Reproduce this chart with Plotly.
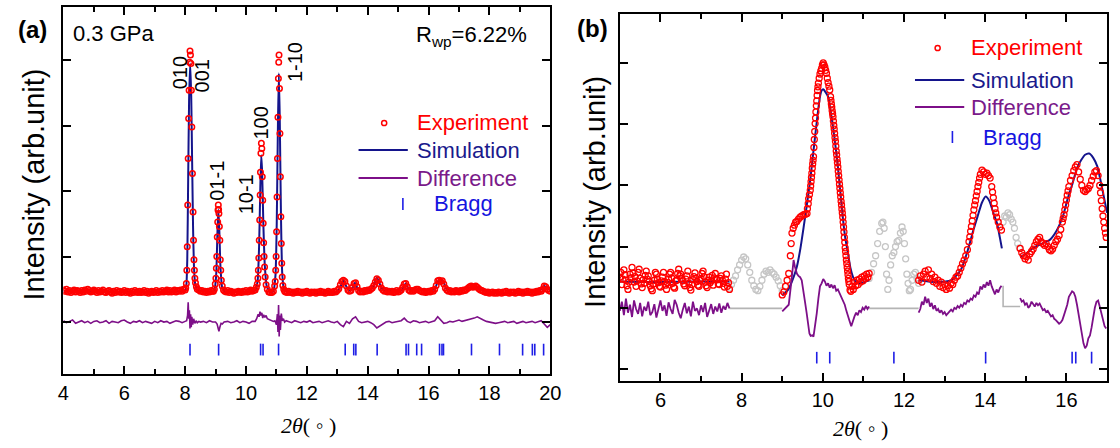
import plotly.graph_objects as go

W, H = 1120, 448

# ======================= Panel (a) data (0.3 GPa) =======================
a_step = 0.05
a_bg1_start = 4.00
a_bg1 = [0.49,0.47,0.50,0.46,0.48,0.45,0.47,0.49,0.46,0.48,
         0.47,0.45,0.48,0.46,0.49,0.47,0.50,0.48,0.46,0.47,
         0.49,0.47,0.45,0.48,0.46,0.47,0.49,0.46,0.45,0.47,
         0.48,0.46,0.44,0.47,0.45,0.48,0.46,0.47,0.45,0.46,
         0.48,0.45,0.47,0.46,0.44,0.47,0.45,0.48,0.46,0.45,
         0.47,0.45,0.46,0.48,0.45,0.47,0.44,0.46,0.47,0.45,
         0.46,0.48,0.45,0.47,0.46,0.48,0.46,0.47,0.49,0.46,
         0.48,0.46,0.47,0.49,0.46,0.48,0.47,0.49,0.47,0.50]
a_bg2_start = 8.45
a_bg2 = [0.49,0.47,0.48,0.46,0.47,0.45,0.47,0.46,0.48,0.47]
a_bg3_start = 9.30
a_bg3 = [0.47,0.46,0.48,0.45,0.47,0.46,0.44,0.46,0.45,0.47,
         0.46,0.45,0.47,0.46,0.48,0.46,0.47,0.49,0.47,0.48]
a_bg4_start = 11.30
a_bg4 = [0.46,0.45,0.47,0.45,0.46,0.44,0.46,0.45,0.47,0.45,
         0.46,0.44,0.46,0.45,0.47,0.45,0.44,0.46,0.45,0.46,
         0.44,0.46,0.45,0.47,0.45,0.46,0.44,0.45,0.47,0.45,
         0.46,0.45,0.47,0.46,0.48,0.51,0.57,0.62,0.64,0.62,
         0.55,0.49,0.47,0.48,0.53,0.59,0.60,0.54,0.48,0.46,
         0.47,0.46,0.48,0.47,0.49,0.48,0.50,0.52,0.56,0.61,
         0.66,0.64,0.58,0.52,0.49,0.47,0.48,0.46,0.47,0.46,
         0.47,0.45,0.46,0.48,0.46,0.47,0.49,0.53,0.58,0.59,
         0.54,0.49,0.47,0.48,0.47,0.49,0.50,0.50,0.48,0.47,
         0.46,0.47,0.45,0.46,0.47,0.46,0.48,0.47,0.50,0.56,
         0.63,0.64,0.62,0.63,0.58,0.52,0.49,0.47,0.48,0.46,
         0.47,0.46,0.48,0.47,0.46,0.48,0.47,0.49,0.48,0.50,
         0.52,0.54,0.55,0.53,0.54,0.55,0.53,0.51,0.49,0.48,
         0.47,0.46,0.45,0.46,0.44,0.45,0.46,0.44,0.45,0.44,
         0.46,0.45,0.44,0.46,0.45,0.47,0.45,0.44,0.46,0.45,
         0.46,0.44,0.45,0.47,0.45,0.46,0.44,0.46,0.45,0.47,
         0.45,0.46,0.44,0.46,0.45,0.47,0.46,0.48,0.47,0.50,
         0.55,0.54,0.50,0.48,0.47]
a_exp_peaks = [
    (8.00,0.49),(8.02,0.52),(8.04,0.59),(8.055,0.79),(8.07,1.15),(8.085,1.79),(8.10,2.50),
    (8.115,3.11),(8.13,3.54),(8.145,3.97),(8.16,4.14),(8.175,4.08),(8.19,3.95),(8.205,3.54),
    (8.22,2.98),(8.24,2.27),(8.26,1.68),(8.275,1.25),(8.29,0.95),(8.305,0.79),(8.32,0.67),
    (8.34,0.60),(8.37,0.54),(8.40,0.50),
    (8.93,0.47),(8.96,0.50),(8.99,0.58),(9.01,0.67),(9.025,0.82),(9.04,1.00),(9.055,1.30),
    (9.07,1.53),(9.08,1.71),(9.09,1.79),(9.10,1.72),(9.11,1.66),(9.125,1.46),(9.14,1.25),
    (9.155,0.95),(9.17,0.79),(9.19,0.64),(9.22,0.55),(9.26,0.49),
    (10.30,0.49),(10.34,0.53),(10.37,0.58),(10.39,0.67),(10.405,0.79),(10.42,0.98),
    (10.435,1.25),(10.45,1.56),(10.465,1.94),(10.475,2.29),(10.49,2.58),(10.505,2.73),
    (10.52,2.65),(10.535,2.22),(10.55,1.86),(10.565,1.51),(10.58,1.21),(10.595,1.00),
    (10.61,0.84),(10.63,0.69),(10.66,0.57),(10.70,0.50),(10.75,0.46),(10.80,0.45),(10.85,0.45),
    (10.90,0.47),(10.94,0.55),(10.96,0.62),(10.975,0.79),(10.99,1.00),(11.005,1.38),
    (11.02,1.91),(11.035,2.50),(11.05,3.13),(11.065,3.72),(11.075,3.97),(11.085,4.08),
    (11.10,3.57),(11.115,2.88),(11.13,2.22),(11.145,1.61),(11.16,1.20),(11.175,0.90),
    (11.19,0.69),(11.21,0.56),(11.24,0.50),(11.27,0.47)]
a_sim = [
    (4.0,0.47),(5.0,0.47),(6.0,0.46),(7.0,0.46),(7.9,0.47),(8.0,0.48),(8.04,0.56),(8.07,0.95),
    (8.10,2.2),(8.13,3.4),(8.165,3.95),(8.20,3.45),(8.23,2.45),(8.26,1.45),(8.29,0.85),
    (8.33,0.58),(8.40,0.49),(8.6,0.47),(8.95,0.48),(9.02,0.72),(9.06,1.35),(9.09,1.72),
    (9.12,1.45),(9.16,0.85),(9.22,0.52),(9.3,0.47),(10.2,0.47),(10.30,0.48),(10.38,0.62),
    (10.43,1.15),(10.47,2.05),(10.50,2.55),(10.53,2.30),(10.57,1.50),(10.62,0.85),(10.68,0.55),
    (10.80,0.45),(10.90,0.47),(10.97,0.72),(11.01,1.50),(11.05,3.05),(11.08,3.80),(11.11,3.10),
    (11.15,1.60),(11.19,0.75),(11.25,0.50),(11.4,0.46),(13.0,0.46),(13.1,0.54),(13.2,0.63),
    (13.3,0.54),(13.4,0.48),(13.5,0.52),(13.58,0.60),(13.66,0.52),(13.75,0.47),(14.1,0.49),
    (14.2,0.56),(14.3,0.68),(14.4,0.58),(14.5,0.49),(15.1,0.48),(15.25,0.59),(15.35,0.50),
    (15.65,0.50),(16.2,0.50),(16.3,0.62),(16.4,0.64),(16.5,0.60),(16.6,0.50),(17.3,0.52),
    (17.5,0.55),(17.7,0.51),(17.9,0.46),(19.6,0.46),(19.8,0.55),(20.0,0.48)]
a_dstep = 0.1
a_d1_start = 4.0
a_d1 = [0.02,-0.01,0.01,0.03,-0.02,0.00,0.02,-0.01,0.01,-0.02,
        0.01,0.02,-0.01,0.00,0.02,-0.02,0.01,0.00,-0.01,0.02,
        0.03,0.00,-0.02,0.01,0.00,0.02,-0.01,0.01,0.00,-0.02,
        0.01,-0.01,0.02,0.00,0.01,-0.02,0.00,0.02,0.01,-0.01]
a_d2_start = 8.6
a_d2 = [0.01,-0.01,0.02,0.00]
a_d3_start = 9.4
a_d3 = [0.01,-0.01,0.00,0.02,-0.01,0.01,0.00,-0.02,0.01]
a_d4_start = 11.4
a_d4 = [0.01,-0.01,0.02,0.00,-0.01,0.01,0.00,0.02,-0.01,0.00,
        0.01,-0.01,0.00,0.02,0.00,-0.01,0.01,-0.04,-0.07,0.01,
        -0.02,0.05,0.08,0.01,-0.01,0.00,0.01,-0.01,-0.04,-0.09,
        -0.06,-0.02,0.00,0.01,-0.01,0.00,0.01,0.02,0.06,0.01,
        -0.01,0.02,0.01,-0.01,0.00,0.01,-0.01,0.00,0.02,0.08,
        0.03,-0.02,-0.01,0.01,0.00,0.02,0.03,0.01,0.02,0.03,
        0.04,0.06,0.08,0.05,0.03,0.01,0.00,-0.01,-0.02,-0.01,
        0.00,0.01,-0.01,0.00,0.01,-0.02,0.00,0.01,-0.01,0.00,
        0.01,-0.01,0.00,0.02,-0.03,-0.08,-0.04]
a_diff_peaks = [
    (8.0,0.01),(8.05,0.02),(8.08,0.10),(8.10,0.30),(8.12,0.05),(8.14,0.18),(8.16,-0.10),
    (8.18,0.12),(8.20,-0.08),(8.22,0.08),(8.25,-0.04),(8.28,0.05),(8.32,-0.02),(8.36,0.02),
    (8.40,-0.01),(8.45,0.01),(8.50,0.00),
    (9.00,0.00),(9.05,-0.03),(9.08,-0.12),(9.11,-0.14),(9.14,-0.08),(9.18,-0.02),(9.22,-0.03),(9.28,0.00),
    (10.30,0.01),(10.35,0.05),(10.40,0.12),(10.43,0.08),(10.46,0.16),(10.49,0.10),(10.52,0.14),
    (10.55,0.06),(10.58,0.11),(10.62,0.07),(10.66,0.10),(10.70,0.05),(10.75,0.04),(10.80,0.03),
    (10.85,0.02),(10.90,0.01),(10.95,0.02),(11.00,-0.04),(11.03,0.12),(11.05,-0.15),(11.07,0.26),
    (11.09,-0.22),(11.11,0.10),(11.13,-0.12),(11.16,0.13),(11.19,0.02),(11.23,0.05),(11.27,0.00),(11.32,0.02)]
a_bragg = [8.16, 9.10, 10.48, 10.56, 11.07, 13.26, 13.54, 13.61, 14.31, 15.26, 15.34, 15.61,
           15.77, 16.36, 16.44, 16.49, 17.41, 18.33, 19.09, 19.41, 19.49, 19.78]
a_bragg_span = (-0.33, -0.51)
a_hkl = [("010", 177, 73), ("001", 199.5, 76), ("01-1", 214, 181), ("10-1", 244, 194),
         ("100", 258.5, 123), ("1-10", 293.5, 62)]

# ======================= Panel (b) data =======================
b_step = 0.05
b_r1_start = 5.00
b_r1_step = 0.025
b_r1 = [1.50,1.58,1.38,1.47,1.62,1.54,1.45,1.36,1.30,1.42,1.55,1.49,1.66,1.57,1.42,1.51,1.35,1.44,1.58,1.63,
        1.48,1.39,1.33,1.46,1.40,1.53,1.60,1.47,1.52,1.43,1.36,1.31,1.28,1.39,1.45,1.58,1.55,1.47,1.41,1.35,
        1.34,1.44,1.50,1.58,1.43,1.37,1.30,1.41,1.47,1.55,1.58,1.49,1.40,1.34,1.32,1.44,1.45,1.56,1.63,1.52,
        1.55,1.48,1.44,1.39,1.36,1.47,1.52,1.60,1.40,1.33,1.29,1.38,1.46,1.51,1.57,1.48,1.43,1.37,1.35,1.45,
        1.48,1.56,1.60,1.51,1.42,1.36,1.33,1.45,1.50,1.41,1.44,1.53,1.37,1.49,1.56,1.47,1.46,1.39,1.38,1.48,
        1.52,1.45,1.40,1.34,1.47,1.55,1.35,1.41,1.30]
b_g1_start = 7.70
b_g1 = [1.32,1.38,1.45,1.52,1.62,1.70,1.78,1.83,1.80,1.70,1.58,1.45,1.36,1.30,
        1.28,1.35,1.45,1.55,1.60,1.58,1.62,1.58,1.55,1.50,1.44,1.36,1.28]
b_r2 = [
    (9.00,1.21),(9.04,1.26),(9.08,1.35),(9.12,1.45),(9.16,1.56),(9.20,1.85),(9.22,2.05),(9.24,2.22),
    (9.27,2.30),(9.30,2.35),(9.33,2.40),(9.36,2.41),(9.40,2.45),(9.44,2.48),(9.48,2.50),(9.53,2.52),
    (9.57,2.53),(9.61,2.54),(9.64,2.70),(9.67,2.85),(9.69,2.92),(9.71,3.06),(9.73,3.20),(9.75,3.35),
    (9.77,3.47),(9.79,3.75),(9.81,4.01),(9.83,4.20),(9.85,4.38),(9.87,4.55),(9.89,4.67),(9.91,4.75),
    (9.93,4.82),(9.95,4.87),(9.97,4.91),(9.99,4.97),(10.01,5.00),(10.03,4.97),(10.05,4.93),
    (10.07,4.88),(10.09,4.83),(10.11,4.75),(10.13,4.68),(10.15,4.62),(10.17,4.56),(10.19,4.45),
    (10.21,4.33),(10.23,4.22),(10.25,4.12),(10.27,3.98),(10.29,3.85),(10.31,3.72),(10.33,3.56),
    (10.35,3.43),(10.37,3.30),(10.39,3.16),(10.41,3.02),(10.43,2.88),(10.45,2.74),(10.47,2.61),
    (10.49,2.48),(10.51,2.32),(10.53,2.15),(10.55,1.98),(10.57,1.85),(10.59,1.72),(10.61,1.60),
    (10.63,1.48),(10.65,1.38),(10.67,1.29),(10.69,1.27),(10.72,1.35),(10.75,1.30),(10.78,1.42),
    (10.81,1.36),(10.84,1.45),(10.87,1.38),(10.90,1.47),(10.93,1.42),(10.96,1.50),(10.99,1.44),
    (11.02,1.52),(11.05,1.48),(11.08,1.55),(11.11,1.50),(11.14,1.56),
    (9.62,2.62),(9.65,2.78),(9.70,2.99),(9.72,3.13),(9.74,3.28),(9.76,3.41),(9.78,3.62),(9.80,3.88),
    (9.82,4.10),(9.84,4.30),(9.86,4.47),(9.88,4.61),(10.20,4.39),(10.22,4.28),(10.24,4.17),
    (10.26,4.05),(10.28,3.92),(10.30,3.78),(10.32,3.64),(10.34,3.50),(10.36,3.37),(10.38,3.23),
    (10.40,3.09),(10.42,2.95),(10.44,2.81),(10.46,2.68),(10.48,2.55),(10.50,2.40),(10.52,2.24),
    (10.54,2.07),(10.56,1.92),(10.58,1.78),(10.60,1.66),(10.62,1.54),(10.64,1.43)]
b_g2 = [
    (11.14,1.48),(11.20,1.58),(11.25,1.72),(11.30,1.85),(11.35,2.05),(11.40,2.25),(11.45,2.38),
    (11.48,2.40),(11.51,2.30),(11.54,2.00),(11.57,1.55),(11.60,1.30),(11.63,1.45),(11.67,1.70),
    (11.71,1.85),(11.75,1.90),(11.79,2.00),(11.83,2.08),(11.87,2.10),(11.91,2.22),(11.95,2.32),
    (11.98,2.25),(12.01,2.05),(12.04,1.80),(12.07,1.55),(12.10,1.40),(12.13,1.28),(12.16,1.30),
    (12.20,1.45),(12.24,1.55),(12.28,1.58),(12.32,1.48),(12.36,1.40)]
b_fstep = 0.04
b_r3_start = 12.36
b_r3 = [1.45,1.52,1.42,1.55,1.60,1.50,1.62,1.48,1.55,1.43,
        1.50,1.40,1.45,1.35,1.42,1.33,1.38,1.30,1.36,1.32,
        1.40,1.38,1.45,1.50,1.52,1.58,1.65,1.72,1.78,1.85,
        1.95,2.08,2.25,2.42,2.60,2.75,2.90,3.05,3.18,3.25,
        3.22,3.18,3.20,3.16,3.12,2.98,2.80,2.62,2.48,2.40,
        2.32,2.27]
b_r3_extra = [(13.62,2.16),(13.66,2.33),(13.70,2.51),(13.74,2.68),(13.78,2.83),(13.82,2.98),
              (13.86,3.12),(14.18,2.89),(14.22,2.71),(14.26,2.55)]
b_g3_start = 14.44
b_g3 = [2.40,2.50,2.48,2.55,2.52,2.45,2.40,2.30,2.15,2.05,1.98]
b_r4_start = 14.86
b_r4 = [1.97,1.90,1.85,1.80,1.84,1.78,1.88,1.92,1.96,2.02,
        2.08,2.12,2.15,2.08,2.05,2.02,2.05,2.00,1.95,1.93,
        1.96,2.02,2.08,2.12,2.18,2.28,2.40,2.52,2.68,2.84,
        2.98,3.08,3.16,3.24,3.30,3.34,3.22,3.10,3.00,2.92,
        2.90,2.93,2.95,3.00,3.08,3.15,3.22,3.24,3.16,3.00,
        2.75,2.50,2.30,2.15]
b_r4_extra = [(15.92,2.46),(15.96,2.60),(16.00,2.76),(16.04,2.91),(16.84,2.88),(16.88,2.62),
              (16.92,2.40),(16.96,2.22)]
b_sim_segments = [
    [(5.0,1.43),(6.0,1.42),(7.0,1.43),(7.7,1.43)],
    [(9.0,1.20),(9.15,1.30),(9.28,1.50),(9.36,1.67),(9.45,1.98),(9.53,2.33),(9.61,2.70),(9.69,3.09),
     (9.75,3.45),(9.81,3.80),(9.87,4.15),(9.93,4.45),(9.97,4.55),(10.01,4.57),(10.07,4.52),
     (10.13,4.45),(10.19,4.22),(10.25,3.96),(10.31,3.65),(10.37,3.31),(10.43,2.90),(10.49,2.49),
     (10.55,2.15),(10.62,1.89),(10.68,1.65),(10.74,1.51),(10.80,1.43),(10.90,1.40),(11.14,1.45)],
    [(12.36,1.45),(12.8,1.42),(13.16,1.45),(13.40,1.62),(13.57,1.94),(13.70,2.25),(13.81,2.49),
     (13.92,2.72),(14.01,2.82),(14.10,2.75),(14.20,2.55),(14.29,2.38),(14.36,2.15),(14.41,1.97)],
    [(14.86,1.83),(15.0,1.88),(15.18,1.98),(15.40,2.05),(15.59,2.11),(15.75,2.25),(15.91,2.49),
     (16.03,2.78),(16.15,3.03),(16.26,3.28),(16.36,3.41),(16.46,3.50),(16.56,3.52),(16.66,3.45),
     (16.76,3.31),(16.84,3.08),(16.92,2.82),(17.0,2.55)]]
b_d1_start = 5.00
b_d1 = [0.95,1.10,0.88,1.15,0.92,1.05,0.85,1.12,0.98,0.90,
        1.08,0.86,1.02,0.95,1.10,0.88,0.93,1.06,0.84,1.00,
        1.12,0.95,1.04,0.87,1.09,0.98,0.90,1.13,1.05,0.92,
        0.83,0.97,1.08,0.91,1.02,0.86,1.10,0.95,0.99,0.88,
        1.04,0.93,1.08,0.85,0.97,1.06,0.90,1.02,0.94,1.07,
        0.92,1.03,0.97,1.08,0.99]
b_d2 = [
    (9.00,0.94),(9.05,0.98),(9.10,1.02),(9.16,1.05),(9.22,1.40),(9.26,1.70),(9.28,1.78),(9.31,1.68),
    (9.36,1.56),(9.40,1.52),(9.44,1.50),(9.48,1.45),(9.52,1.30),(9.56,1.10),(9.60,0.92),(9.64,0.72),
    (9.67,0.58),(9.70,0.54),(9.74,0.55),(9.77,0.53),(9.81,0.70),(9.85,0.91),(9.89,1.15),(9.93,1.35),
    (9.97,1.40),(10.01,1.47),(10.05,1.43),(10.09,1.36),(10.13,1.40),(10.17,1.33),(10.21,1.38),
    (10.25,1.32),(10.29,1.37),(10.33,1.28),(10.37,1.30),(10.42,1.22),(10.46,1.15),(10.50,1.10),
    (10.54,1.05),(10.58,0.95),(10.62,0.88),(10.66,0.78),(10.70,0.70),(10.74,0.80),(10.78,0.86),
    (10.82,0.92),(10.86,0.88),(10.90,0.96),(10.94,0.93),(10.98,1.00),(11.02,0.97),(11.06,1.03),
    (11.10,0.98),(11.14,1.02)]
b_d3_start = 12.36
b_d3 = [0.92,0.98,1.10,1.05,1.18,1.08,1.15,1.02,1.08,0.98,
        1.04,0.95,0.98,0.92,0.96,0.90,0.93,0.88,0.91,0.95,
        0.97,0.94,1.00,0.98,1.03,1.00,1.05,1.02,1.08,1.06,
        1.12,1.10,1.15,1.13,1.20,1.18,1.25,1.22,1.35,1.30,
        1.38,1.33,1.42,1.36,1.45,1.35,1.28,1.22,1.30,1.25,
        1.32,1.36]
b_d4_start = 14.86
b_d4 = [1.16,1.10,1.12,1.05,1.08,1.00,1.03,1.10,1.06,1.02,
        1.08,1.04,1.07,1.00,0.96,0.98,0.93,0.95,0.90,0.86,
        0.88,0.82,0.80,0.77,0.74,0.76,0.80,0.88,0.95,1.05,
        1.18,1.24,1.27,1.25,1.18,1.05,0.88,0.70,0.55,0.42,
        0.34,0.38,0.50,0.55,0.68,0.85,1.00,1.10,1.12,1.02,
        0.90,0.78,0.70,0.66]
b_excluded = [(7.70, 9.00), (11.14, 12.36), (14.44, 14.86)]
b_excl_level = [0.99, 0.99, 1.02]
b_excl_jump = 1.36
b_bragg = [9.85, 10.17, 11.75, 14.01, 16.14, 16.23, 16.62]
b_bragg_span = (0.28, 0.09)

# ======================= helpers =======================
def grid(start, step, vals):
    return [round(start + i * step, 4) for i in range(len(vals))], list(vals)

def merge(*parts):
    pts = []
    for xs, ys in parts:
        pts += list(zip(xs, ys))
    pts.sort(key=lambda p: p[0])
    return [p[0] for p in pts], [p[1] for p in pts]

def unzip(pairs):
    return [p[0] for p in pairs], [p[1] for p in pairs]

def join_gaps(*parts):
    X, Y = [], []
    for i, (xs, ys) in enumerate(parts):
        if i:
            X.append(None); Y.append(None)
        X += list(xs); Y += list(ys)
    return X, Y

def ticks(pos, span):
    X, Y = [], []
    for p in pos:
        X += [p, p, None]; Y += [span[0], span[1], None]
    return X, Y

RED = "#ff0000"
NAVY = "#14148c"
PURPLE = "#7d0f88"
BLUE = "#1e1ee6"
GREY = "#c6c6c6"
SANS = "Liberation Sans, Arial, sans-serif"
SERIF = "Liberation Serif, Times New Roman, serif"

fig = go.Figure()

# ----- panel (a) traces -----
ax_x, ax_y = merge(grid(a_bg1_start, a_step, a_bg1), grid(a_bg2_start, a_step, a_bg2),
                   grid(a_bg3_start, a_step, a_bg3), grid(a_bg4_start, a_step, a_bg4),
                   unzip(a_exp_peaks))
sx, sy = unzip(a_sim)
dx, dy = merge(grid(a_d1_start, a_dstep, a_d1), grid(a_d2_start, a_dstep, a_d2),
               grid(a_d3_start, a_dstep, a_d3), grid(a_d4_start, a_dstep, a_d4),
               unzip(a_diff_peaks))
bx, by = ticks(a_bragg, a_bragg_span)

fig.add_trace(go.Scatter(x=sx, y=sy, mode="lines", line=dict(color=NAVY, width=2, shape="spline", smoothing=0.5),
                         xaxis="x", yaxis="y", showlegend=False))
fig.add_trace(go.Scatter(x=ax_x, y=ax_y, mode="markers",
                         marker=dict(symbol="circle-open", size=5.5, color=RED, line=dict(width=1.5, color=RED)),
                         xaxis="x", yaxis="y", showlegend=False))
fig.add_trace(go.Scatter(x=dx, y=dy, mode="lines", line=dict(color=PURPLE, width=1.6),
                         xaxis="x", yaxis="y", showlegend=False))
fig.add_trace(go.Scatter(x=bx, y=by, mode="lines", line=dict(color=BLUE, width=1.6),
                         xaxis="x", yaxis="y", showlegend=False))

# ----- panel (b) traces -----
rx, ry = join_gaps(grid(b_r1_start, b_r1_step, b_r1), merge(unzip(b_r2)),
                   merge(grid(b_r3_start, b_fstep, b_r3), unzip(b_r3_extra)),
                   merge(grid(b_r4_start, b_fstep, b_r4), unzip(b_r4_extra)))
gx, gy = join_gaps(grid(b_g1_start, b_step, b_g1), unzip(b_g2), grid(b_g3_start, b_fstep, b_g3))
smx, smy = join_gaps(*[unzip(s) for s in b_sim_segments])
ddx, ddy = join_gaps(grid(b_d1_start, b_step, b_d1), unzip(b_d2), grid(b_d3_start, b_fstep, b_d3),
                     grid(b_d4_start, b_fstep, b_d4))
ex_x, ex_y = [], []
for (lo, hi), lv in zip(b_excluded, b_excl_level):
    if lo == b_excluded[-1][0]:
        ex_x += [lo, lo, hi, None]; ex_y += [b_excl_jump, lv, lv, None]
    else:
        ex_x += [lo, hi, None]; ex_y += [lv, lv, None]
bbx, bby = ticks(b_bragg, b_bragg_span)

fig.add_trace(go.Scatter(x=ex_x, y=ex_y, mode="lines", line=dict(color="#b4b4b4", width=1.6),
                         xaxis="x2", yaxis="y2", showlegend=False))
fig.add_trace(go.Scatter(x=gx, y=gy, mode="markers",
                         marker=dict(symbol="circle-open", size=6, color=GREY, line=dict(width=1.3, color=GREY)),
                         xaxis="x2", yaxis="y2", showlegend=False))
fig.add_trace(go.Scatter(x=smx, y=smy, mode="lines", line=dict(color=NAVY, width=2, shape="spline", smoothing=0.6),
                         xaxis="x2", yaxis="y2", showlegend=False, connectgaps=False))
fig.add_trace(go.Scatter(x=rx, y=ry, mode="markers",
                         marker=dict(symbol="circle-open", size=6, color=RED, line=dict(width=1.3, color=RED)),
                         xaxis="x2", yaxis="y2", showlegend=False))
fig.add_trace(go.Scatter(x=ddx, y=ddy, mode="lines", line=dict(color=PURPLE, width=1.8),
                         xaxis="x2", yaxis="y2", showlegend=False, connectgaps=False))
fig.add_trace(go.Scatter(x=bbx, y=bby, mode="lines", line=dict(color=BLUE, width=1.6),
                         xaxis="x2", yaxis="y2", showlegend=False))

# ======================= axes =======================
def PX(x):
    return x / W

def PY(y):
    return 1 - y / H

xcommon = dict(showline=True, linecolor="black", linewidth=2, mirror="ticks", ticks="inside",
               ticklen=8, tickwidth=2, tickcolor="black", showgrid=False, zeroline=False,
               dtick=2, tick0=0, tickfont=dict(family=SANS, size=20, color="black"),
               minor=dict(ticks="inside", ticklen=5, tickwidth=2, tickcolor="black", dtick=1, tick0=0,
                          showgrid=False))
ycommon = dict(showline=True, linecolor="black", linewidth=2, mirror="ticks", ticks="inside",
               ticklen=8, tickwidth=2, tickcolor="black", showgrid=False, zeroline=False,
               showticklabels=False)

fig.update_layout(
    width=W, height=H, autosize=False, margin=dict(l=0, r=0, t=0, b=0),
    paper_bgcolor="white", plot_bgcolor="white", showlegend=False,
    xaxis=dict(domain=[PX(58.3), PX(552.7)], range=[4, 20], anchor="y", **xcommon),
    yaxis=dict(domain=[PY(374), PY(7.3)], range=[-0.794, 4.809], anchor="x",
               tickvals=[0, 1, 2, 3, 4], **ycommon),
    xaxis2=dict(domain=[PX(623.3), PX(1118)], range=[5, 17], anchor="y2", **xcommon),
    yaxis2=dict(domain=[PY(381), PY(14)], range=[-0.196, 5.80], anchor="x2",
                tickvals=[0, 1, 2, 3, 4, 5], **ycommon),
)

# ======================= text & legends =======================
ann = []
def text(t, x, y, size, color="black", family=SANS, xanchor="center", yanchor="middle", angle=0):
    ann.append(dict(text=t, x=PX(x), y=PY(y), xref="paper", yref="paper", showarrow=False,
                    xanchor=xanchor, yanchor=yanchor, textangle=angle,
                    font=dict(family=family, size=size, color=color)))

text("<b>(a)</b>", 27, 30, 24)
text("<b>(b)</b>", 595.5, 28, 24)
text("0.3 GPa", 66, 33, 22, xanchor="left")
text("R<sub>wp</sub>=6.22%", 414, 36, 22, xanchor="left")
for lab, x, y in a_hkl:
    text(lab, x, y, 20, angle=-90)
text("Intensity (arb.unit)", 28, 185, 29, angle=-90)
text("Intensity (arb.unit)", 598, 192, 29, angle=-90)
text("<i>2θ</i>( ◦ )", 307, 425, 22, family=SERIF)
text("<i>2θ</i>( ◦ )", 868, 428, 22, family=SERIF)

leg_names = ["Experiment", "Simulation", "Difference", "Bragg"]
leg_colors = [RED, "#1a1a8c", "#7a1a8a", "#1515e0"]
shapes = []
def legend(rows, x0, x1, xm, xb, xt, xtb):
    for name, col, yr in zip(leg_names, leg_colors, rows):
        text(name, xtb if name == "Bragg" else xt, yr, 22, color=col, xanchor="left")
    shapes.append(dict(type="circle", xref="paper", yref="paper",
                       x0=PX(xm - 2.6), x1=PX(xm + 2.6), y0=PY(rows[0] + 2.6), y1=PY(rows[0] - 2.6),
                       line=dict(color=RED, width=1.5)))
    shapes.append(dict(type="line", xref="paper", yref="paper", x0=PX(x0), x1=PX(x1),
                       y0=PY(rows[1]), y1=PY(rows[1]), line=dict(color=NAVY, width=2)))
    shapes.append(dict(type="line", xref="paper", yref="paper", x0=PX(x0), x1=PX(x1),
                       y0=PY(rows[2]), y1=PY(rows[2]), line=dict(color=PURPLE, width=2)))
    shapes.append(dict(type="line", xref="paper", yref="paper", x0=PX(xb), x1=PX(xb),
                       y0=PY(rows[3] - 6), y1=PY(rows[3] + 6), line=dict(color=BLUE, width=1.6)))

legend([123, 150, 178, 204], 358, 408, 384, 403, 415, 433)
legend([48, 80, 107, 137], 923, 973, 946, 961, 978, 990)

fig.update_layout(annotations=ann, shapes=shapes)
fig.write_html("out.html")
